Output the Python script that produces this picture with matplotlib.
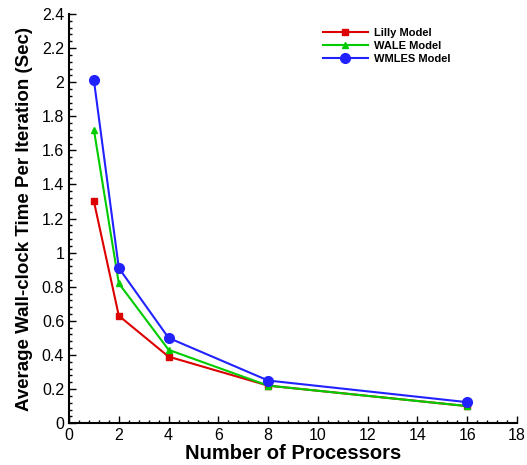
import matplotlib
matplotlib.use("Agg")
import matplotlib.pyplot as plt
from matplotlib.ticker import MultipleLocator

plt.rcParams['font.family'] = ['Liberation Sans', 'DejaVu Sans']

# processors vs. time per iteration
procs = [1, 2, 4, 8, 16]
lilly = [1.30, 0.63, 0.39, 0.22, 0.10]
wale = [1.72, 0.82, 0.43, 0.22, 0.10]
wmles = [2.01, 0.91, 0.50, 0.25, 0.123]

fig = plt.figure(figsize=(5.27, 4.65), dpi=100)
ax = fig.add_axes([0.131, 0.090, 0.850, 0.880])

ax.plot(procs, lilly, color='#dd0000', marker='s', markersize=5, lw=1.5, label='Lilly Model')
ax.plot(procs, wale, color='#00cc00', marker='^', markersize=5, lw=1.5, label='WALE Model')
ax.plot(procs, wmles, color='#2222ff', marker='o', markersize=7, lw=1.5, label='WMLES Model')

ax.set_xlim(0, 18)
ax.set_ylim(0, 2.4)
ax.xaxis.set_major_locator(MultipleLocator(2))
ax.xaxis.set_minor_locator(MultipleLocator(0.4))
ax.yaxis.set_minor_locator(MultipleLocator(0.04))
ax.set_yticks([0, 0.2, 0.4, 0.6, 0.8, 1, 1.2, 1.4, 1.6, 1.8, 2, 2.2, 2.4])
ax.set_yticklabels(['0', '0.2', '0.4', '0.6', '0.8', '1', '1.2', '1.4', '1.6', '1.8', '2', '2.2', '2.4'])

ax.tick_params(which='both', direction='in', labelsize=11.5, width=1)
ax.tick_params(which='major', length=5)
ax.tick_params(which='minor', length=2.5)
for s in ['top', 'right']:
    ax.spines[s].set_visible(False)
for s in ['left', 'bottom']:
    ax.spines[s].set_linewidth(1.5)

ax.set_xlabel('Number of Processors', fontsize=14.5, fontweight='bold', labelpad=1)
ax.set_ylabel('Average Wall-clock Time Per Iteration (Sec)', fontsize=13.5, fontweight='bold', labelpad=6)

leg = ax.legend(loc='upper left', bbox_to_anchor=(0.545, 0.99), frameon=False,
                prop={'weight': 'bold', 'size': 8}, handlelength=4, handletextpad=0.6,
                labelspacing=0.25)

fig.savefig('out.png', dpi=100)
